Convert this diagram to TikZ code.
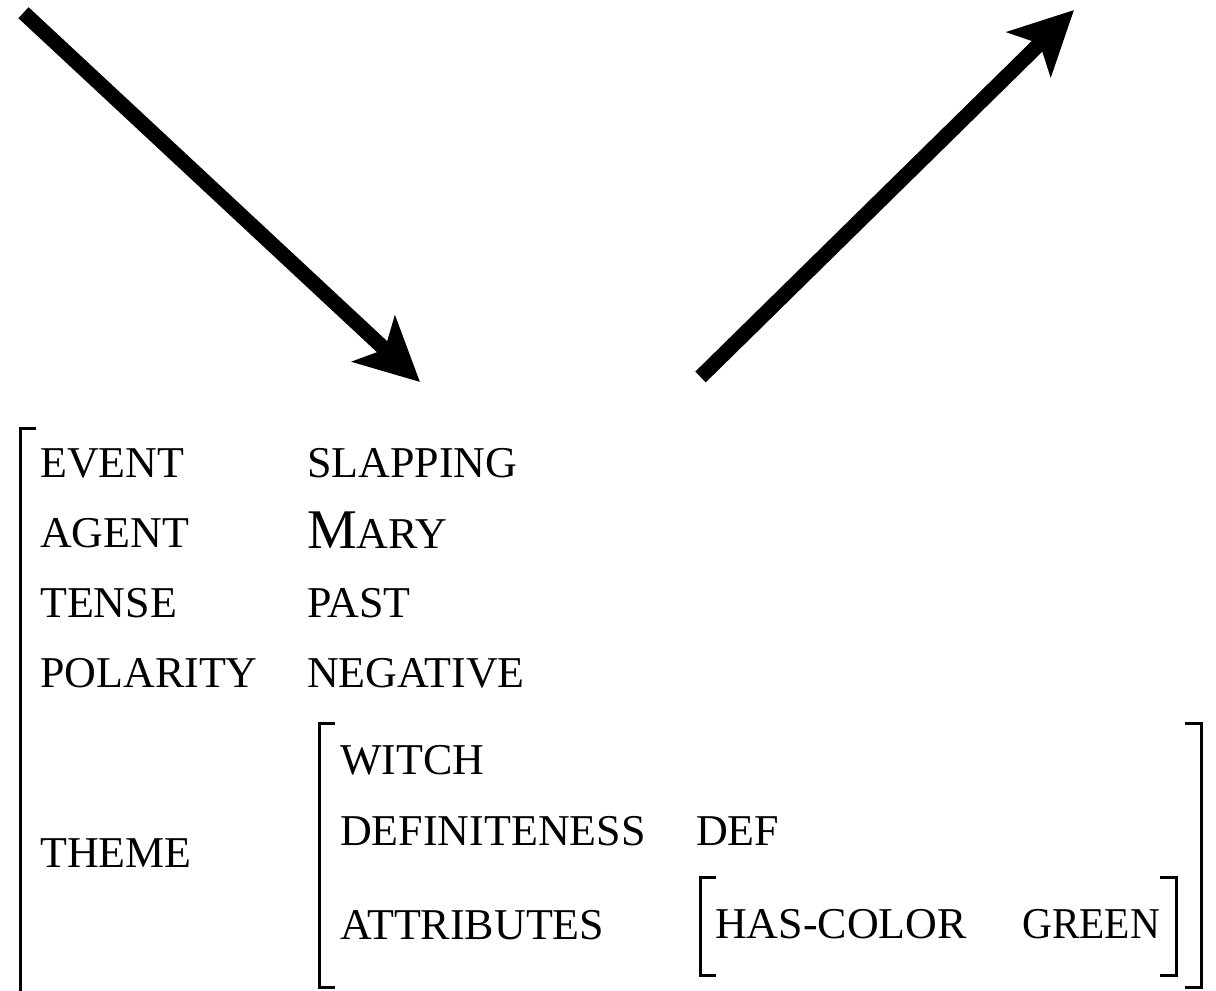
\documentclass[tikz,border=0pt]{standalone}
\usepackage{fontspec}
\setmainfont{Liberation Serif}
\usetikzlibrary{arrows.meta}
% small capitals built from reduced capitals, with a full-size initial
\newcommand{\initialcap}[1]{{\fontsize{56}{60}\selectfont #1}}
\begin{document}
\begin{tikzpicture}[x=1pt,y=-1pt,
  fs/.style={inner sep=0pt, anchor=base west, font=\fontsize{44}{50}\selectfont},
  bigarrow/.style={line width=15pt, -{Stealth[length=63pt, width=62pt, inset=15pt]}},
  brk/.style={line width=3pt, line cap=butt, line join=miter}]
\useasboundingbox (0,0) rectangle (1216,991);

% two heavy arrows
\coordinate (a1s) at (23.5,12.7);
\coordinate (a1e) at (420,382);
\coordinate (a2s) at (700.5,377);
\coordinate (a2e) at (1074,10);
\draw[bigarrow] (a1s) -- (a1e);
\draw[bigarrow] (a2s) -- (a2e);

% outer attribute-value matrix
\draw[brk] (36,428) -- (20,428) -- (20,991);
\node[fs] (ev)  at (40,477) {EVENT};
\node[fs] (evv) at (307,477) {SLAPPING};
\node[fs] (ag)  at (40,547) {AGENT};
\node[fs] (agv) at (307,548) {\initialcap{M}ARY};
\node[fs] (te)  at (40,617) {TENSE};
\node[fs] (tev) at (307,617) {PAST};
\node[fs] (po)  at (40,687) {POLARITY};
\node[fs] (pov) at (307,687) {NEGATIVE};
\node[fs] (th)  at (40,867) {THEME};

% theme value
\draw[brk] (335,723) -- (319,723) -- (319,987) -- (335,987);
\draw[brk] (1185,723) -- (1201,723) -- (1201,987) -- (1185,987);
\node[fs] (wi)  at (340,774) {WITCH};
\node[fs] (df)  at (340,845) {DEFINITENESS};
\node[fs] (dfv) at (696,845) {DEF};
\node[fs] (at)  at (340,939) {ATTRIBUTES};

% attributes value
\draw[brk] (716,877) -- (700,877) -- (700,975) -- (716,975);
\draw[brk] (1160,877) -- (1176,877) -- (1176,975) -- (1160,975);
\node[fs] (hc)  at (715,938) {HAS-COLOR};
\node[fs] (gr)  at (1022,938) {\scalebox{0.94}[1]{GREEN}};
\end{tikzpicture}
\end{document}
